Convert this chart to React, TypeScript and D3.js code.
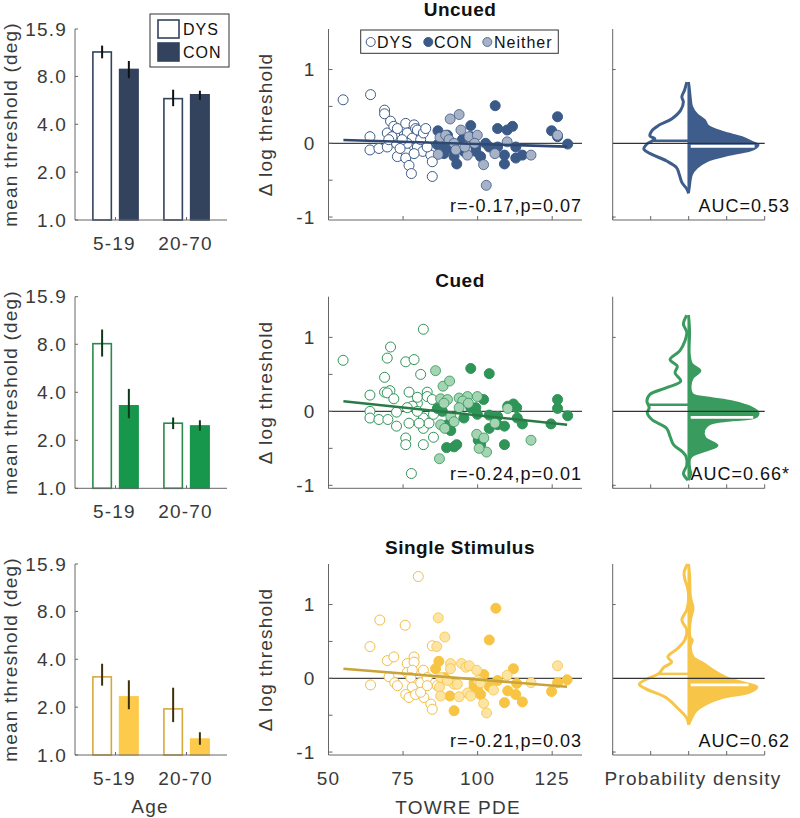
import React from "react";
import * as d3 from "d3";

const FONT = "'Liberation Sans', Arial, Helvetica, sans-serif";

// ---------- data ----------
const conditions = ["Uncued", "Cued", "Single Stimulus"];
const ageGroups = ["5-19", "20-70"];
const groupsSeries = ["DYS", "CON"];
const barTicks = [1, 2, 4, 8, 15.9];
const barTickLabels = ["1.0", "2.0", "4.0", "8.0", "15.9"];

const barDys = [[11.4, 5.8], [8.07, 2.56], [3.1, 1.95]];
const barCon = [[8.85, 6.13], [3.29, 2.46], [2.32, 1.26]];
const errDys = [
  [[10.4, 12.5], [5.2, 6.6]],
  [[6.7, 9.9], [2.35, 2.78]],
  [[2.73, 3.75], [1.61, 2.65]],
];
const errCon = [
  [[7.8, 10.0], [5.7, 6.5]],
  [[2.75, 4.2], [2.3, 2.67]],
  [[1.94, 2.95], [1.16, 1.39]],
];

const uncuedDys = [
  [54.9, 0.59], [64.1, 0.66], [63.9, 0.09], [63.9, -0.09], [66.9, -0.07], [68.8, 0.45], [68.8, 0.4],
  [70.8, 0.3], [69.7, 0.14], [69.7, -0.05], [71.9, 0.23], [72.2, 0.11], [73.1, 0.2], [72.8, 0.0],
  [73.1, -0.18], [75.9, 0.27], [75.9, -0.11], [75.9, -0.2], [77.0, -0.3], [77.8, -0.41], [76.4, 0.14],
  [78.1, 0.07], [78.7, 0.25], [79.2, 0.2], [79.8, -0.05], [80.9, 0.05], [79.8, 0.18], [81.8, 0.14],
  [82.6, 0.2], [81.6, -0.11], [84.3, -0.16], [84.8, -0.25], [84.8, -0.45], [83.1, -0.05], [78.7, -0.14],
  [76.4, 0.0], [74.7, 0.05], [71.3, 0.09], [74.0, -0.07], [70.2, 0.05],
];
const uncuedCon = [
  [86.7, 0.17], [88.7, -0.05], [89.9, 0.11], [91.0, -0.07], [92.1, -0.18], [93.0, -0.28], [94.9, 0.05],
  [97.7, 0.24], [97.7, 0.09], [99.4, -0.11], [99.4, -0.05], [101.0, -0.18], [102.7, 0.0], [103.9, -0.05],
  [105.9, 0.51], [106.7, 0.2], [106.7, -0.05], [109.0, -0.16], [109.0, -0.28], [109.9, 0.18], [111.7, 0.23],
  [112.8, -0.05], [112.8, -0.2], [115.0, -0.16], [124.8, 0.17], [126.8, 0.36], [126.8, 0.09], [130.2, -0.01],
  [95.4, -0.11], [88.7, -0.14], [86.5, -0.02],
];
const uncuedNeither = [
  [87.4, 0.08], [89.3, 0.11], [90.8, 0.33], [93.8, 0.39], [94.4, 0.18], [97.1, 0.09], [99.9, 0.11],
  [86.8, -0.15], [90.4, 0.05], [92.1, 0.0], [96.6, -0.16], [99.0, 0.0], [102.0, -0.29], [102.9, -0.57],
  [105.8, -0.14], [109.9, 0.02], [117.9, -0.16], [126.8, 0.11], [92.7, -0.09], [95.7, -0.05],
];

const cuedDys = [
  [54.9, 0.69], [63.9, 0.22], [63.9, 0.0], [63.9, -0.09], [66.9, -0.11], [68.8, 0.46], [69.7, 0.72],
  [70.8, 0.87], [68.8, 0.26], [70.6, 0.28], [69.7, 0.25], [71.9, 0.17], [69.9, -0.11], [72.8, -0.01],
  [72.8, -0.2], [75.9, 0.67], [78.7, 0.7], [80.9, 0.5], [81.8, 1.11], [77.0, 0.26], [75.9, -0.36],
  [75.9, -0.45], [77.8, -0.84], [77.0, -0.16], [79.8, 0.11], [79.8, 0.19], [83.1, 0.26], [83.1, 0.2],
  [81.8, -0.09], [81.8, -0.23], [81.8, -0.45], [83.7, -0.16], [85.2, -0.04], [85.2, -0.35], [78.1, 0.07],
  [79.8, 0.0], [76.4, 0.05], [80.4, -0.16], [84.8, 0.16],
];
const cuedCon = [
  [86.5, 0.04], [88.2, 0.0], [89.9, -0.18], [91.0, -0.26], [89.6, -0.49], [92.1, -0.48], [93.0, -0.45],
  [97.7, 0.58], [103.9, 0.51], [95.4, -0.09], [97.7, 0.05], [99.4, 0.05], [99.9, -0.04], [102.0, 0.16],
  [101.0, -0.45], [100.2, -0.39], [103.9, -0.05], [103.9, -0.23], [106.7, -0.18], [109.0, -0.45],
  [110.1, 0.07], [112.0, 0.1], [113.1, 0.05], [113.3, -0.09], [115.0, -0.17], [124.6, -0.17], [126.8, 0.16],
  [126.8, 0.04], [130.2, -0.06], [106.7, -0.07], [109.0, -0.2],
];
const cuedNeither = [
  [85.9, 0.55], [88.4, 0.34], [90.6, 0.41], [87.6, 0.17], [89.9, 0.16], [88.7, 0.11], [93.8, 0.18],
  [96.6, 0.2], [99.9, 0.2], [95.0, 0.14], [96.9, 0.11], [87.6, -0.18], [89.0, -0.23], [87.2, -0.64],
  [91.0, -0.07], [99.7, -0.31], [102.1, -0.36], [103.0, -0.55], [100.5, -0.5], [105.8, -0.16],
  [110.1, 0.04], [117.9, -0.39], [93.8, 0.05], [92.1, -0.14],
];

const singleDys = [
  [63.9, 0.43], [64.1, -0.09], [67.2, 0.79], [69.7, 0.24], [70.3, 0.02], [71.9, 0.29], [72.2, -0.06],
  [73.1, -0.1], [75.7, 0.72], [75.9, -0.22], [76.4, 0.2], [76.4, 0.08], [77.0, -0.26], [78.7, 0.29],
  [78.7, 0.22], [78.1, 0.11], [77.6, 0.01], [78.1, -0.12], [79.2, -0.22], [80.1, 1.38], [80.9, -0.06],
  [81.8, 0.11], [82.0, -0.26], [80.9, -0.19], [83.1, 0.01], [84.3, -0.35], [84.8, -0.42], [84.8, 0.44],
  [86.5, -0.1], [83.1, -0.1],
];
const singleCon = [
  [85.9, 0.13], [87.0, 0.23], [88.9, 0.01], [90.7, -0.24], [92.1, -0.44], [98.8, -0.12], [99.9, -0.15],
  [101.0, -0.22], [102.1, 0.05], [103.9, 0.52], [106.1, 0.95], [103.9, -0.11], [109.0, -0.33],
  [110.1, -0.17], [112.0, 0.13], [112.8, -0.22], [115.0, -0.32], [113.1, -0.07], [124.8, -0.18],
  [126.8, -0.06], [130.0, -0.02], [106.7, -0.03], [98.8, -0.06],
];
const singleNeither = [
  [86.8, 0.82], [86.3, 0.43], [89.0, 0.56], [87.6, 0.01], [87.2, -0.12], [87.6, -0.24], [90.9, 0.2],
  [90.9, 0.13], [92.1, -0.08], [93.2, -0.08], [94.6, 0.2], [96.1, 0.15], [97.2, 0.17], [96.6, -0.2],
  [97.7, -0.24], [93.8, -0.25], [99.7, 0.11], [100.2, -0.03], [102.0, -0.34], [103.0, -0.47],
  [105.3, -0.16], [109.9, 0.04], [117.9, -0.06], [126.8, 0.17], [89.9, -0.03], [101.0, -0.06],
];

const scatterDys = [uncuedDys, cuedDys, singleDys];
const scatterCon = [uncuedCon, cuedCon, singleCon];
const scatterNeither = [uncuedNeither, cuedNeither, singleNeither];

const regX = [55, 130];
const regY = [[0.045, -0.045], [0.136, -0.18], [0.13, -0.115]];
const corrText = ["r=-0.17,p=0.07", "r=-0.24,p=0.01", "r=-0.21,p=0.03"];
const scatterXTicks = [50, 75, 100, 125];
const scatterYTicks = [-1, -0.5, 0, 0.5, 1];
const scatterYLabels = [-1, 0, 1];

// density [y, density]
const uncuedDensCon = [
  [0.83, 0], [0.75, 0.02], [0.6, 0.05], [0.5, 0.08], [0.4, 0.2], [0.31, 0.42], [0.24, 0.5], [0.15, 0.9],
  [0.08, 1.4], [0.01, 1.7], [-0.02, 1.83], [-0.08, 1.7], [-0.15, 1.1], [-0.24, 0.47], [-0.33, 0.21],
  [-0.42, 0.08], [-0.6, 0.02], [-0.67, 0],
];
const uncuedDensDys = [
  [0.83, 0.05], [0.72, 0.11], [0.63, 0.18], [0.56, 0.14], [0.45, 0.21], [0.33, 0.45], [0.24, 0.8],
  [0.17, 0.97], [0.1, 1.02], [0.06, 0.89], [-0.01, 1.1], [-0.08, 1.18], [-0.15, 0.97], [-0.24, 0.58],
  [-0.33, 0.32], [-0.42, 0.25], [-0.53, 0.18], [-0.62, 0.05], [-0.68, 0],
];
const cuedDensCon = [
  [1.3, 0], [1.09, 0.03], [0.77, 0.02], [0.64, 0.08], [0.55, 0.3], [0.45, 0.1], [0.34, 0.04], [0.23, 0.1],
  [0.18, 0.55], [0.13, 1.15], [0.05, 1.65], [-0.02, 1.83], [-0.08, 1.75], [-0.12, 1.1], [-0.17, 0.55],
  [-0.25, 0.4], [-0.36, 0.43], [-0.46, 0.75], [-0.52, 0.5], [-0.59, 0.12], [-0.64, 0.03], [-0.77, 0.03],
  [-0.84, 0.06], [-0.93, 0],
];
const cuedDensDys = [
  [1.3, 0.05], [1.18, 0.14], [1.07, 0.05], [0.95, 0.1], [0.82, 0.23], [0.7, 0.49], [0.61, 0.3],
  [0.52, 0.36], [0.41, 0.21], [0.32, 0.58], [0.23, 1.02], [0.14, 1.1], [0.05, 1.04], [-0.02, 1.09],
  [-0.11, 0.97], [-0.23, 0.58], [-0.34, 0.49], [-0.45, 0.4], [-0.55, 0.16], [-0.61, 0.07], [-0.73, 0.05],
  [-0.84, 0.14], [-0.93, 0.02],
];
const singleDensCon = [
  [1.55, 0], [1.39, 0.03], [1.11, 0.05], [0.95, 0.12], [0.79, 0.05], [0.56, 0.04], [0.52, 0.1],
  [0.43, 0.05], [0.29, 0.12], [0.2, 0.4], [0.11, 0.65], [0.01, 1.0], [-0.06, 1.45], [-0.12, 1.8],
  [-0.19, 1.6], [-0.26, 0.9], [-0.35, 0.45], [-0.44, 0.2], [-0.54, 0.08], [-0.63, 0],
];
const singleDensDys = [
  [1.55, 0.03], [1.44, 0.12], [1.34, 0.1], [1.23, 0.03], [1.09, 0.0], [0.93, 0.05], [0.79, 0.18],
  [0.66, 0.05], [0.52, 0.1], [0.4, 0.3], [0.29, 0.55], [0.22, 0.45], [0.15, 0.65], [0.06, 0.8],
  [-0.01, 1.1], [-0.08, 1.3], [-0.15, 1.1], [-0.26, 0.6], [-0.4, 0.3], [-0.54, 0.05], [-0.63, 0],
];
const densDys = [uncuedDensDys, cuedDensDys, singleDensDys];
const densCon = [uncuedDensCon, cuedDensCon, singleDensCon];
const medianDys = [0.036, 0.09, 0.06];
const medianCon = [-0.04, -0.08, -0.09];
const aucText = ["AUC=0.53", "AUC=0.66*", "AUC=0.62"];
const densXTicks = [-2, -1, 0, 1, 2];

// ---------- styles ----------
const palettes = [
  { barCon: "#33435e", barDys: "#33435e", con: "#3b5a88", nei: "#a7b2c6", dys: "#3b5a88", reg: "#2e4870", dens: "#3e5d8c", err: "#111111" },
  { barCon: "#17974b", barDys: "#2b8a4a", con: "#2f9457", nei: "#a5d4b3", dys: "#2f9457", reg: "#2a7a46", dens: "#3a9b5e", err: "#0b3a1a" },
  { barCon: "#fdca4c", barDys: "#d6a93c", con: "#f8c443", nei: "#fde4a2", dys: "#efbe47", reg: "#c9a43a", dens: "#f7c548", err: "#3d300a" },
];

const rowTop = [29, 296.7, 564];
const rowBottom = [220, 488.3, 755];
const titleY = [9, 280, 547];

const BAR_L = 75, BAR_R = 227;
const SC_L = 328.5, SC_R = 582;
const DN_L = 612.7, DN_R = 764.7;

const axisColor = "#666";
const tickTextColor = "#3a3a3a";

function interp(arr: number[][], y: number) {
  for (let i = 0; i < arr.length - 1; i++) {
    const a = arr[i], b = arr[i + 1];
    if ((y <= a[0] && y >= b[0])) {
      const t = (y - a[0]) / (b[0] - a[0]);
      return a[1] + t * (b[1] - a[1]);
    }
  }
  return 0;
}

function Row({ i }: { i: number }) {
  const pal = palettes[i];
  const top = rowTop[i], bottom = rowBottom[i];
  const yLog = d3.scaleLog().domain([1, 15.9]).range([bottom, top]);
  const xGroup = d3.scalePoint<string>().domain(ageGroups).range([BAR_L, BAR_R]).padding(0.57);
  const xSub = d3.scaleBand<string>().domain(groupsSeries).range([-22.6, 22.6]).paddingInner(0.31);
  const bw = xSub.bandwidth();

  const xs = d3.scaleLinear().domain([50, 135]).range([SC_L, SC_R]);
  const ys = d3.scaleLinear().domain([-1.04, 1.55]).range([bottom, top]);
  const xd = d3.scaleLinear().domain([-2, 2]).range([DN_L, DN_R]);

  const midY = (top + bottom) / 2;
  const textBase = { fontFamily: FONT, letterSpacing: "1.2px" } as React.CSSProperties;

  const areaCon = d3.area<number[]>().y((d) => ys(d[0])).x0(xd(0)).x1((d) => xd(d[1])).curve(d3.curveCatmullRom);
  const lineCon = d3.line<number[]>().y((d) => ys(d[0])).x((d) => xd(d[1])).curve(d3.curveCatmullRom);
  const lineDys = d3.line<number[]>().y((d) => ys(d[0])).x((d) => xd(-d[1])).curve(d3.curveCatmullRom);

  const r = 5;
  const dyW = interp(densDys[i], medianDys[i]);
  const coW = interp(densCon[i], medianCon[i]);

  return (
    <g>
      {/* ---------------- bar panel ---------------- */}
      <text x={10} y={midY} transform={`rotate(-90, 10, ${midY})`} textAnchor="middle" dominantBaseline="central" fontSize={19} fill={tickTextColor} style={textBase}>
        mean threshold (deg)
      </text>
      {ageGroups.map((g, gi) => {
        const vals = [barDys[i][gi], barCon[i][gi]];
        const errs = [errDys[i][gi], errCon[i][gi]];
        return groupsSeries.map((s, si) => {
          const x = (xGroup(g) as number) + (xSub(s) as number);
          const v = vals[si];
          const isCon = s === "CON";
          return (
            <g key={g + s}>
              <rect x={x} y={yLog(v)} width={bw} height={bottom - yLog(v)} fill={isCon ? pal.barCon : "#fff"} stroke={isCon ? pal.barCon : pal.barDys} strokeWidth={1.6} />
              <line x1={x + bw / 2} x2={x + bw / 2} y1={yLog(errs[si][0])} y2={yLog(errs[si][1])} stroke={pal.err} strokeWidth={2} />
            </g>
          );
        });
      })}
      <line x1={BAR_L} x2={BAR_L} y1={top} y2={bottom} stroke={axisColor} strokeWidth={1} />
      <line x1={BAR_L} x2={BAR_R} y1={bottom} y2={bottom} stroke={axisColor} strokeWidth={1} />
      {barTicks.map((t, ti) => (
        <g key={"bt" + t}>
          <line x1={BAR_L} x2={BAR_L + 3} y1={yLog(t)} y2={yLog(t)} stroke={axisColor} />
          <text x={BAR_L - 8} y={yLog(t)} textAnchor="end" dominantBaseline="central" fontSize={19} fill={tickTextColor} style={textBase}>
            {barTickLabels[ti]}
          </text>
        </g>
      ))}
      {ageGroups.map((g) => (
        <g key={"ag" + g}>
          <line x1={xGroup(g)} x2={xGroup(g)} y1={bottom} y2={bottom - 3} stroke={axisColor} />
          <text x={(xGroup(g) as number) - 1} y={bottom + 23} textAnchor="middle" dominantBaseline="central" fontSize={19} fill={tickTextColor} style={textBase}>
            {g}
          </text>
        </g>
      ))}

      {/* ---------------- scatter panel ---------------- */}
      <text x={460} y={titleY[i]} textAnchor="middle" dominantBaseline="central" fontSize={19} fontWeight="bold" fill="#111" style={{ fontFamily: FONT, letterSpacing: "0.5px" }}>
        {conditions[i]}
      </text>
      <text x={265} y={midY} transform={`rotate(-90, 265, ${midY})`} textAnchor="middle" dominantBaseline="central" fontSize={19} fill={tickTextColor} style={textBase}>
        Δ log threshold
      </text>
      <line x1={SC_L} x2={SC_R} y1={ys(0)} y2={ys(0)} stroke="#444" strokeWidth={1.3} />
      {scatterDys[i].map((d, k) => (
        <circle key={"d" + k} cx={xs(d[0])} cy={ys(d[1])} r={r} fill="#fff" stroke={pal.dys} strokeWidth={1} />
      ))}
      {scatterCon[i].map((d, k) => (
        <circle key={"c" + k} cx={xs(d[0])} cy={ys(d[1])} r={r} fill={pal.con} stroke={pal.con} strokeWidth={1} />
      ))}
      {scatterNeither[i].map((d, k) => (
        <circle key={"n" + k} cx={xs(d[0])} cy={ys(d[1])} r={r} fill={pal.nei} stroke={pal.con} strokeWidth={0.8} />
      ))}
      <line x1={xs(regX[0])} x2={xs(regX[1])} y1={ys(regY[i][0])} y2={ys(regY[i][1])} stroke={pal.reg} strokeWidth={2.6} />
      <line x1={SC_L} x2={SC_L} y1={top} y2={bottom} stroke={axisColor} />
      <line x1={SC_L} x2={SC_R} y1={bottom} y2={bottom} stroke={axisColor} />
      {scatterYTicks.map((t) => (
        <line key={"syt" + t} x1={SC_L} x2={SC_L + 4} y1={ys(t)} y2={ys(t)} stroke={axisColor} />
      ))}
      {scatterYLabels.map((t) => (
        <text key={"syl" + t} x={SC_L - 13} y={ys(t)} textAnchor="end" dominantBaseline="central" fontSize={19} fill={tickTextColor} style={textBase}>
          {t}
        </text>
      ))}
      {scatterXTicks.map((t) => (
        <line key={"sxt" + t} x1={xs(t)} x2={xs(t)} y1={bottom} y2={bottom - 4} stroke={axisColor} />
      ))}
      {i === 2 &&
        scatterXTicks.map((t) => (
          <text key={"sxl" + t} x={xs(t)} y={bottom + 23} textAnchor="middle" dominantBaseline="central" fontSize={19} fill={tickTextColor} style={textBase}>
            {t}
          </text>
        ))}
      <text x={SC_R} y={bottom - 14} textAnchor="end" dominantBaseline="central" fontSize={18} fill="#111" style={{ fontFamily: FONT, letterSpacing: "1px" }}>
        {corrText[i]}
      </text>

      {/* ---------------- density panel ---------------- */}
      <path d={areaCon(densCon[i]) || ""} fill={pal.dens} stroke="none" />
      <path d={lineCon(densCon[i]) || ""} fill="none" stroke={pal.dens} strokeWidth={2.5} />
      <line x1={xd(0)} x2={xd(0)} y1={ys(densCon[i][0][0])} y2={ys(densCon[i][densCon[i].length - 1][0])} stroke={pal.dens} strokeWidth={2.5} />
      <path d={lineDys(densDys[i]) || ""} fill="none" stroke={pal.dens} strokeWidth={3} />
      <line x1={xd(-dyW)} x2={xd(0)} y1={ys(medianDys[i])} y2={ys(medianDys[i])} stroke={pal.dens} strokeWidth={2.5} />
      <line x1={xd(0) + 2} x2={xd(coW) - 2} y1={ys(medianCon[i])} y2={ys(medianCon[i])} stroke="#fff" strokeWidth={2.8} />
      <line x1={DN_L} x2={DN_R} y1={ys(0)} y2={ys(0)} stroke="#333" strokeWidth={1.3} />
      <line x1={DN_L} x2={DN_L} y1={top} y2={bottom} stroke={axisColor} />
      <line x1={DN_L} x2={DN_R} y1={bottom} y2={bottom} stroke={axisColor} />
      {[-1, 1].map((t) => (
        <line key={"dyt" + t} x1={DN_L} x2={DN_L + 3} y1={ys(t)} y2={ys(t)} stroke={axisColor} />
      ))}
      {densXTicks.map((t) => (
        <line key={"dxt" + t} x1={xd(t)} x2={xd(t)} y1={bottom} y2={bottom - 4} stroke={axisColor} />
      ))}
      <text x={790} y={bottom - 14} textAnchor="end" dominantBaseline="central" fontSize={18} fill="#111" style={{ fontFamily: FONT, letterSpacing: "1px" }}>
        {aucText[i]}
      </text>
    </g>
  );
}

export default function App() {
  const pal = palettes[0];
  const leg = { fontFamily: FONT, letterSpacing: "1px" } as React.CSSProperties;
  return (
    <svg width={800} height={818} style={{ position: "absolute", left: 0, top: 0, background: "#fff" }}>
      <rect x={0} y={0} width={800} height={818} fill="#fff" />
      {[0, 1, 2].map((i) => (
        <Row key={i} i={i} />
      ))}

      {/* bar legend */}
      <rect x={150} y={14} width={79} height={53} fill="#fff" stroke="#333" strokeWidth={1} />
      <rect x={158} y={20} width={21} height={18} fill="#fff" stroke={pal.barDys} strokeWidth={1.6} />
      <text x={183} y={29.5} dominantBaseline="central" fontSize={16} fill="#111" style={leg}>DYS</text>
      <rect x={158} y={43} width={21} height={18} fill={pal.barCon} stroke={pal.barCon} strokeWidth={1.6} />
      <text x={183} y={52.5} dominantBaseline="central" fontSize={16} fill="#111" style={leg}>CON</text>

      {/* scatter legend */}
      <rect x={360.7} y={30} width={197.6} height={23.3} fill="#fff" stroke="#333" strokeWidth={1} />
      <circle cx={370.7} cy={42} r={4.5} fill="#fff" stroke={pal.dys} strokeWidth={1} />
      <text x={377} y={42} dominantBaseline="central" fontSize={16} fill="#111" style={leg}>DYS</text>
      <circle cx={428.3} cy={42} r={4.5} fill={pal.con} stroke={pal.con} strokeWidth={1} />
      <text x={434} y={42} dominantBaseline="central" fontSize={16} fill="#111" style={leg}>CON</text>
      <circle cx={487.3} cy={42} r={4.5} fill={pal.nei} stroke={pal.con} strokeWidth={0.8} />
      <text x={494} y={42} dominantBaseline="central" fontSize={16} fill="#111" style={leg}>Neither</text>

      <text x={150} y={806.7} textAnchor="middle" dominantBaseline="central" fontSize={19} fill={tickTextColor} style={{ fontFamily: FONT, letterSpacing: "1.2px" }}>Age</text>
      <text x={458} y={807} textAnchor="middle" dominantBaseline="central" fontSize={19} fill={tickTextColor} style={{ fontFamily: FONT, letterSpacing: "1.2px" }}>TOWRE PDE</text>
      <text x={693} y={778} textAnchor="middle" dominantBaseline="central" fontSize={19} fill={tickTextColor} style={{ fontFamily: FONT, letterSpacing: "1.2px" }}>Probability density</text>
    </svg>
  );
}
